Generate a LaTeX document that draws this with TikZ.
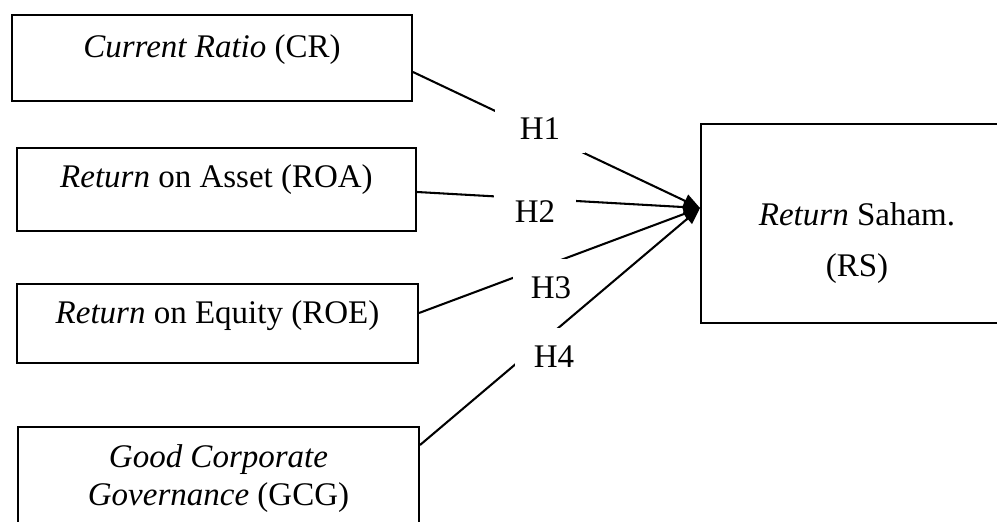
\documentclass[tikz,border=0pt]{standalone}
\usepackage{fontspec}
\setmainfont{Liberation Serif}
\usepackage{tikz}
\usetikzlibrary{arrows.meta}

\begin{document}
\begin{tikzpicture}[x=0.3636pt,y=-0.3636pt,font=\fontsize{12}{13.8}\selectfont,
  box/.style={draw,line width=0.75pt,inner sep=0pt,align=center},
  hyp/.style={fill=white,inner sep=0pt},
  link/.style={line width=0.75pt,-{Triangle[length=6pt,width=5pt]}}]
  \useasboundingbox (0,0) rectangle (997,522);
  \clip (0,0) rectangle (997,522);
  \node[box,minimum width=145.4pt,text height=15.6pt,text depth=15.6pt] (cr) at (212,58) {\textit{Current Ratio} (CR)};
  \node[box,minimum width=145.1pt,text height=14.5pt,text depth=15.6pt] (roa) at (216.5,189.5) {\textit{Return} on Asset (ROA)};
  \node[box,minimum width=145.8pt,text height=14.2pt,text depth=14.5pt] (roe) at (217.5,323.5) {\textit{Return} on Equity (ROE)};
  \node[box,minimum width=145.8pt,text height=28.4pt,text depth=8.7pt] (gcg) at (218.5,478) {\textit{Good Corporate}\\\textit{Governance} (GCG)};
  \node[box,minimum width=113.4pt,text height=55.6pt,text depth=16.7pt] (rs) at (857,223.5) {\textit{Return} Saham.\\[5.1pt](RS)};
  \coordinate (rsin) at (rs.west |- 0,208);
  \draw[link] (cr.east |- 0,72) -- (rsin);
  \node[hyp,minimum width=32.4pt,minimum height=17.5pt] (h1) at (540,129) {H1};
  \draw[link] (roa.east |- 0,192) -- (rsin);
  \node[hyp,minimum width=29.8pt,minimum height=17.5pt] (h2) at (535,212) {H2};
  \draw[link] (roe.east |- 0,313) -- (rsin);
  \node[hyp,minimum width=27.6pt,minimum height=21.1pt] (h3) at (551,288) {H3};
  \draw[link] (gcg.east |- 0,445) -- (rsin);
  \node[hyp,minimum width=28.4pt,minimum height=21.1pt] (h4) at (554,357) {H4};
\end{tikzpicture}
\end{document}
